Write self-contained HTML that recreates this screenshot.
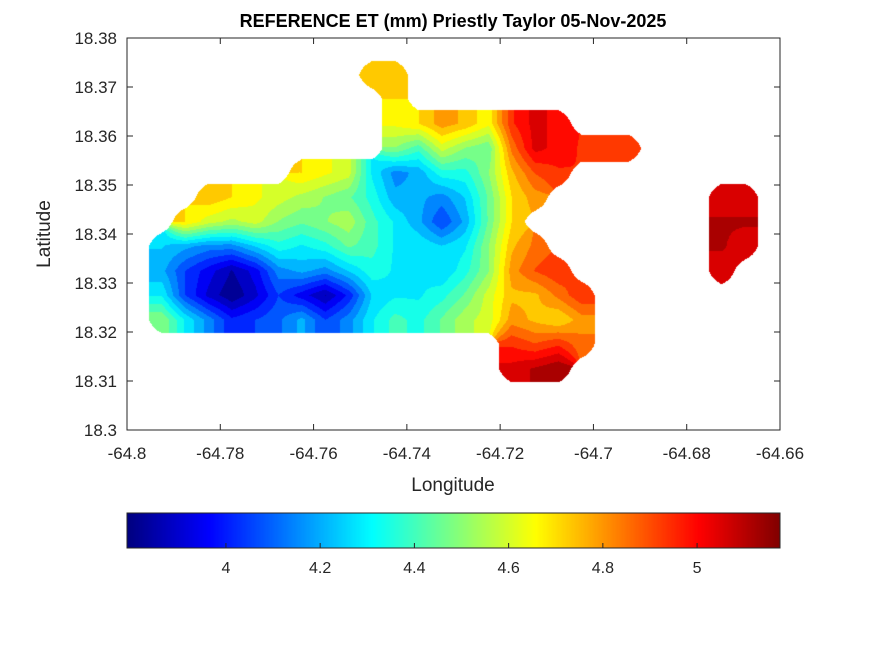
<!DOCTYPE html>
<html><head><meta charset="utf-8"><style>
body{margin:0;background:#fff;}
#wrap{position:relative;width:875px;height:656px;background:#fff;overflow:hidden;font-family:"Liberation Sans",sans-serif;}
canvas,svg{position:absolute;left:0;top:0;}
</style></head><body>
<div id="wrap">
<canvas id="map" width="875" height="656"></canvas>
<canvas id="cbar" width="875" height="656"></canvas>
<svg id="ax" width="875" height="656"></svg>
</div>
<script>
// ---- data ----
const lonMin=-64.8, lonMax=-64.66, latMin=18.3, latMax=18.38, cell=0.005;
const xTicks=[-64.8,-64.78,-64.76,-64.74,-64.72,-64.7,-64.68,-64.66];
const yTicks=[18.3,18.31,18.32,18.33,18.34,18.35,18.36,18.37,18.38];
const cTicks=[4,4.2,4.4,4.6,4.8,5];
const cMin=3.79, cMax=5.176;
// grid rows from top (lat 18.38) downward; columns from lon -64.8; null = no data
const N=null;
const row0=Array(28).fill(N);
const row1=[N,N,N,N,N,N,N,N,N,N,4.75,4.75,N,N,N,N,N,N,N,N,N,N,N,N,N,N,N,N];
const row2=[N,N,N,N,N,N,N,N,N,N,N,4.7,N,N,N,N,N,N,N,N,N,N,N,N,N,N,N,N];
const row3=[N,N,N,N,N,N,N,N,N,N,N,4.65,4.7,4.8,4.75,4.65,4.95,5.05,5.0,N,N,N,N,N,N,N,N,N];
const row4=[N,N,N,N,N,N,N,N,N,N,N,4.5,4.4,4.6,4.5,4.45,4.85,5.05,5.0,4.95,4.95,4.95,N,N,N,N,N,N];
const row5=[N,N,N,N,N,N,N,4.7,4.65,4.6,4.3,4.15,4.2,4.35,4.35,4.5,4.75,4.9,4.95,N,N,N,N,N,N,N,N,N];
const row6=[N,N,N,4.75,4.7,4.65,4.6,4.55,4.5,4.45,4.35,4.2,4.2,4.15,4.25,4.45,4.7,4.8,N,N,N,N,N,N,N,5.05,5.05,N];
const row7=[N,N,4.7,4.6,4.55,4.6,4.5,4.45,4.5,4.55,4.4,4.3,4.2,4.05,4.2,4.45,4.7,N,N,N,N,N,N,N,N,5.1,5.1,N];
const row8=[N,4.25,4.2,4.15,4.15,4.25,4.35,4.3,4.35,4.45,4.4,4.3,4.3,4.25,4.3,4.5,4.75,4.85,N,N,N,N,N,N,N,5.1,5.05,N];
const row9=[N,4.2,4.05,3.95,3.85,3.95,4.15,4.2,4.15,4.25,4.35,4.3,4.3,4.25,4.35,4.5,4.8,4.9,4.95,N,N,N,N,N,N,5.05,N,N];
const row10=[N,4.3,4.05,3.9,3.8,3.9,4.05,3.95,3.85,4.0,4.25,4.3,4.3,4.35,4.45,4.6,4.75,4.75,4.85,4.95,N,N,N,N,N,N,N,N];
const row11=[N,4.5,4.3,4.15,4.0,4.05,4.1,4.2,4.05,4.15,4.3,4.4,4.35,4.45,4.55,4.6,4.8,4.75,4.7,4.8,N,N,N,N,N,N,N,N];
const row12=[N,N,N,N,N,N,N,N,N,N,N,N,N,N,N,N,4.95,4.9,4.95,4.85,N,N,N,N,N,N,N,N];
const row13=[N,N,N,N,N,N,N,N,N,N,N,N,N,N,N,N,5.05,5.1,5.15,N,N,N,N,N,N,N,N,N];
const row14=Array(28).fill(N);
const row15=Array(28).fill(N);
const grid=[row0,row1,row2,row3,row4,row5,row6,row7,row8,row9,row10,row11,row12,row13,row14,row15];

// ---- axes ----
const L=127,R=780,T=38,B=430;
const xS=v=>L+(v-lonMin)/(lonMax-lonMin)*(R-L);
const yS=v=>B-(v-latMin)/(latMax-latMin)*(B-T);
const CL=127,CR=780,CT=513,CB=548;
const cS=v=>CL+(v-cMin)/(cMax-cMin)*(CR-CL);

function jet(t){t=Math.max(0,Math.min(1,t));
 const f=x=>Math.max(0,Math.min(1,x));
 return [f(1.5-Math.abs(4*t-3)),f(1.5-Math.abs(4*t-2)),f(1.5-Math.abs(4*t-1))].map(v=>Math.round(v*255));}

// map
const mc=document.getElementById('map').getContext('2d');
const img=mc.createImageData(875,656);
for(let py=T;py<B;py++)for(let px=L;px<R;px++){
 const lon=lonMin+(px+0.5-L)/(R-L)*(lonMax-lonMin);
 const lat=latMax-(py+0.5-T)/(B-T)*(latMax-latMin);
 const gx=(lon-lonMin)/cell-0.5, gy=(latMax-lat)/cell-0.5;
 const x0=Math.floor(gx),y0=Math.floor(gy),fx=gx-x0,fy=gy-y0;
 let s=0,w=0;
 for(let dy=0;dy<2;dy++)for(let dx=0;dx<2;dx++){
  const r=grid[y0+dy],v=r?r[x0+dx]:undefined;
  const ww=(dx?fx:1-fx)*(dy?fy:1-fy);
  if(v!=null){s+=v*ww;w+=ww;}
 }
 if(w<0.45)continue;
 let v=s/w; v=Math.floor((v-cMin)/0.065)*0.065+cMin+0.03;
 const c=jet((v-cMin)/(cMax-cMin));const i=(py*875+px)*4;
 img.data[i]=c[0];img.data[i+1]=c[1];img.data[i+2]=c[2];img.data[i+3]=255;
}
mc.putImageData(img,0,0);

// colorbar
const cc=document.getElementById('cbar').getContext('2d');
for(let px=CL;px<CR;px++){const c=jet((px-CL)/(CR-CL));cc.fillStyle=`rgb(${c})`;cc.fillRect(px,CT,1,CB-CT);}

// svg
const svg=document.getElementById('ax');const NS='http://www.w3.org/2000/svg';
function el(tag,attrs,txt){const e=document.createElementNS(NS,tag);for(const k in attrs)e.setAttribute(k,attrs[k]);if(txt!=null)e.textContent=txt;svg.appendChild(e);return e;}
let e;
e=el('rect',{x:L,y:T,width:R-L,height:B-T,fill:'none',stroke:'#262626','stroke-width':1});


xTicks.forEach(v=>{const x=xS(v);
 e=el('line',{x1:x,x2:x,y1:B,y2:B-6,stroke:'#262626'});
 e=el('line',{x1:x,x2:x,y1:T,y2:T+6,stroke:'#262626'});
 e=el('text',{x:x,y:B+29,'text-anchor':'middle','font-size':'17',fill:'#262626'},String(v));});
yTicks.forEach(v=>{const y=yS(v);
 e=el('line',{x1:L,x2:L+6,y1:y,y2:y,stroke:'#262626'});
 e=el('line',{x1:R,x2:R-6,y1:y,y2:y,stroke:'#262626'});
 e=el('text',{x:L-10,y:y+6,'text-anchor':'end','font-size':'17',fill:'#262626'},String(v));});
e=el('text',{x:453,y:27,'text-anchor':'middle','font-size':'18','font-weight':'bold',fill:'#000'},'REFERENCE ET (mm) Priestly Taylor 05-Nov-2025');

e=el('text',{x:453,y:491,'text-anchor':'middle','font-size':'19',fill:'#262626'},'Longitude');

e=el('text',{x:0,y:0,'text-anchor':'middle','font-size':'19',fill:'#262626',transform:'translate(50,234) rotate(-90)'},'Latitude');

e=el('rect',{x:CL,y:CT,width:CR-CL,height:CB-CT,fill:'none',stroke:'#262626'});

cTicks.forEach(v=>{const x=cS(v);
 e=el('line',{x1:x,x2:x,y1:CB,y2:CB-5,stroke:'#262626'});
 e=el('text',{x:x,y:CB+25,'text-anchor':'middle','font-size':'16',fill:'#262626'},String(v));});
</script>
</body></html>
